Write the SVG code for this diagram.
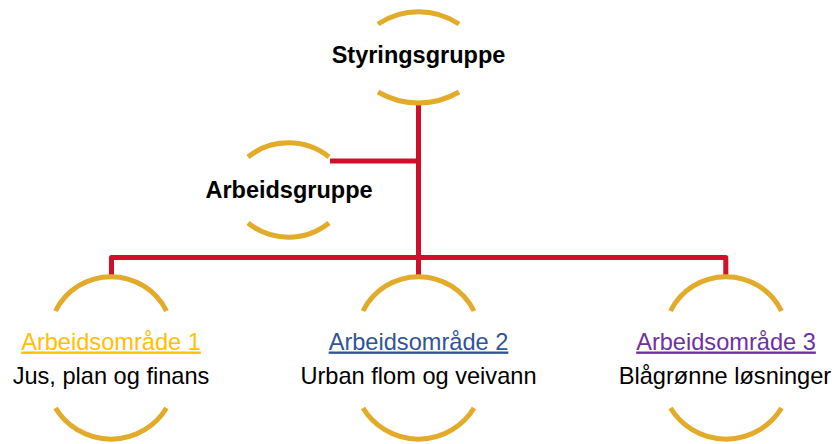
<svg xmlns="http://www.w3.org/2000/svg" width="838" height="444" viewBox="0 0 838 444">
<style>
.arc{fill:none;stroke:#E2AB2A;stroke-width:5}
.con{fill:none;stroke:#D0102A;stroke-width:5;stroke-linejoin:round}
.b{font-family:"Liberation Sans",Arial,sans-serif;font-weight:bold;font-size:23.5px;fill:#000;text-anchor:middle}
.t{font-family:"Liberation Sans",Arial,sans-serif;font-size:23.6px;fill:#000;text-anchor:middle}
.h{text-decoration:underline}
</style>
<rect width="838" height="444" fill="#fff"/>
<g id="connectors">
<path class="con" d="M418.5,104 V276"/>
<path class="con" d="M330,161 H418.5"/>
<path class="con" d="M111.5,276 V257.5 H725.8 V276"/>
</g>
<g id="styringsgruppe">
<path class="arc" d="M378,24 A73,73 0 0 1 459,24"/>
<path class="arc" d="M378,92 A80,80 0 0 0 459,92"/>
<text class="b" x="418.5" y="63">Styringsgruppe</text>
</g>
<g id="arbeidsgruppe">
<path class="arc" d="M248,157 A65,65 0 0 1 329,157"/>
<path class="arc" d="M248,223 A65,65 0 0 0 329,223"/>
<text class="b" x="289" y="198">Arbeidsgruppe</text>
</g>
<g id="omrade1">
<path class="arc" d="M55.5,311 A62,62 0 0 1 166.5,311"/>
<path class="arc" d="M55.5,408 A65,65 0 0 0 166.5,408"/>
<text class="t h" x="111" y="349.5" fill="#FFC000" style="fill:#FFC000">Arbeidsområde 1</text>
<text class="t" x="111" y="383.5">Jus, plan og finans</text>
</g>
<g id="omrade2">
<path class="arc" d="M363,311 A62,62 0 0 1 474,311"/>
<path class="arc" d="M363,408 A65,65 0 0 0 474,408"/>
<text class="t h" x="418.5" y="349.5" style="fill:#2F5597">Arbeidsområde 2</text>
<text class="t" x="418.5" y="383.5">Urban flom og veivann</text>
</g>
<g id="omrade3">
<path class="arc" d="M670.5,311 A62,62 0 0 1 781.5,311"/>
<path class="arc" d="M670.5,408 A65,65 0 0 0 781.5,408"/>
<text class="t h" x="726" y="349.5" style="fill:#7030A0">Arbeidsområde 3</text>
<text class="t" x="725" y="383.5">Blågrønne løsninger</text>
</g>
</svg>
